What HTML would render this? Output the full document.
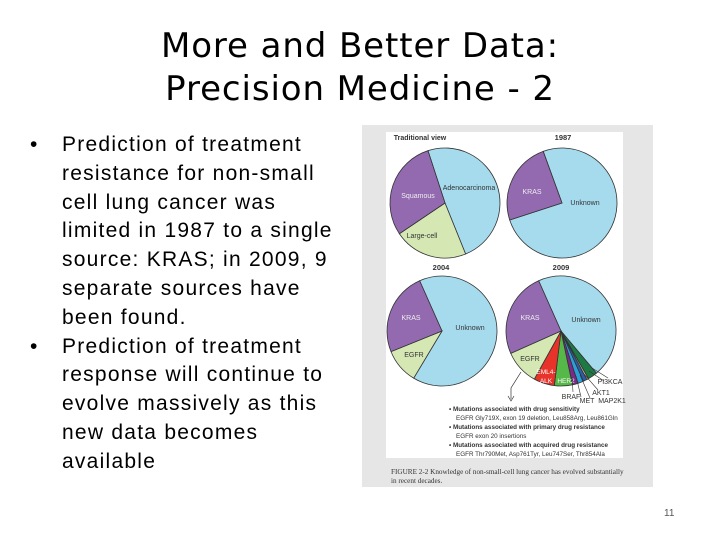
<!DOCTYPE html>
<html><head><meta charset="utf-8"><style>
body{margin:0;width:720px;height:540px;background:#fff;position:relative;overflow:hidden}
.t{position:absolute;left:0;width:720px;text-align:center;font-family:"DejaVu Sans",sans-serif;font-size:34px;letter-spacing:0.9px;line-height:43px;top:25px;color:#000}
.b{position:absolute;left:30px;width:330px;font-family:"Liberation Sans",sans-serif;font-size:21px;letter-spacing:1.25px;line-height:28.8px;color:#000;white-space:nowrap}
.b div{padding-left:32px;position:relative}
.b div span.bu{position:absolute;left:0}
.pn{position:absolute;left:664px;top:508px;font-family:"Liberation Sans",sans-serif;font-size:10px;color:#555}
</style></head><body>
<div class="t">More and Better Data:<br>Precision Medicine - 2</div>
<div class="b" style="top:131px">
<div><span class="bu">•</span>Prediction of treatment<br>resistance for non-small<br>cell lung cancer was<br>limited in 1987 to a single<br>source: KRAS; in 2009, 9<br>separate sources have<br>been found.</div>
<div><span class="bu">•</span>Prediction of treatment<br>response will continue to<br>evolve massively as this<br>new data becomes<br>available</div>
</div>
<div class="pn">11</div>
<svg id="fig" width="720" height="540" style="position:absolute;left:0;top:0">
<rect x="362" y="125" width="291" height="362" fill="#e6e6e6"/>
<rect x="386" y="132" width="237" height="326" fill="#fff"/>
</svg>
<script>
// values in degrees of each slice
const tradLabels=["Adenocarcinoma","Large-cell","Squamous"];
const tradValues=[176,78,106];
const y1987Labels=["Unknown","KRAS"];
const y1987Values=[272,88];
const y2004Labels=["Unknown","EGFR","KRAS"];
const y2004Values=[235,37,88];
const y2009Labels=["Unknown","PI3KCA","MAP2K1","AKT1","MET","BRAF","HER2","EML4-ALK","EGFR","KRAS"];
const y2009Values=[164,10,2,4,6,6,19,22,37,90];
const colors={Adenocarcinoma:"#a6dbee",Unknown:"#a6dbee","Large-cell":"#d5e8b4",EGFR:"#d5e8b4",Squamous:"#9369b0",KRAS:"#9369b0",PI3KCA:"#1e7a45",MAP2K1:"#d9c9a0",AKT1:"#2a5ea8",MET:"#2ba0d8",BRAF:"#7a2a8a",HER2:"#55b848","EML4-ALK":"#e8332a"};
const svg=document.getElementById('fig');
const NS="http://www.w3.org/2000/svg";
function pt(cx,cy,r,a){const t=a*Math.PI/180;return [cx+r*Math.sin(t),cy-r*Math.cos(t)];}
function pie(name,cx,cy,r,start,labels,vals){
  let a=start;
  labels.forEach((l,i)=>{
    const a2=a+vals[i];
    const p1=pt(cx,cy,r,a),p2=pt(cx,cy,r,a2);
    const p=document.createElementNS(NS,'path');
    p.setAttribute('d',`M${cx},${cy}L${p1[0]},${p1[1]}A${r},${r} 0 ${vals[i]>180?1:0} 1 ${p2[0]},${p2[1]}Z`);
    p.setAttribute('fill',colors[l]);p.setAttribute('stroke','#333');p.setAttribute('stroke-width','0.8');
    
    
    svg.appendChild(p);a=a2;
  });
}
function txt(x,y,s,size,fill,weight,anchor,fam){
  const t=document.createElementNS(NS,'text');
  t.setAttribute('x',x);t.setAttribute('y',y);t.setAttribute('font-size',size);
  t.setAttribute('fill',fill||'#333');t.setAttribute('font-family',fam||'"Liberation Sans",sans-serif');
  if(weight)t.setAttribute('font-weight',weight);
  t.setAttribute('text-anchor',anchor||'middle');t.textContent=s;
  
  
  svg.appendChild(t);
}
pie('traditional',445,203,55,342,tradLabels,tradValues);
pie('pie-1987',562,203,55,340,y1987Labels,y1987Values);
pie('pie-2004',442,331,55,336,y2004Labels,y2004Values);
pie('pie-2009',561,331,55,336,y2009Labels,y2009Values);
txt(420,140,'Traditional view',7,'#333','bold');
txt(563,140,'1987',7.5,'#333','bold');
txt(441,270,'2004',7.5,'#333','bold');
txt(561,270,'2009',7.5,'#333','bold');
txt(469,190,'Adenocarcinoma',7);txt(418,198,'Squamous',7,'#eee');txt(422,238,'Large-cell',7);
txt(532,194,'KRAS',7,'#eee');txt(585,205,'Unknown',7);
txt(411,320,'KRAS',7,'#eee');txt(470,330,'Unknown',7);txt(414,357,'EGFR',7);
txt(530,320,'KRAS',7,'#eee');txt(586,322,'Unknown',7);txt(530,361,'EGFR',7);
txt(546,374,'EML4-',6.5,'#fff');txt(546,383,'ALK',6.5,'#fff');txt(566,383,'HER2',6.5,'#fff');
txt(610,384,'PI3KCA',7);txt(601,395,'AKT1',7);txt(571,399,'BRAF',7);txt(587,403,'MET',7);txt(612,403,'MAP2K1',7);
const l=document.createElementNS(NS,'path');
l.setAttribute('d','M521,372 L511,388 L511,399 M508,396 L511,401 L514,396');
l.setAttribute('stroke','#333');l.setAttribute('fill','none');l.setAttribute('stroke-width','0.7');


svg.appendChild(l);
const l2=document.createElementNS(NS,'path');
l2.setAttribute('d','M589,371 L604,381 M584,374 L598,390 M580,375 L590,398 M576,376 L581,397 M572,377 L573,392 M592,368 L608,378');
l2.setAttribute('stroke','#333');l2.setAttribute('fill','none');l2.setAttribute('stroke-width','0.6');


svg.appendChild(l2);
const notes=[["• Mutations associated with drug sensitivity",411,'bold'],["EGFR Gly719X, exon 19 deletion, Leu858Arg, Leu861Gln",420,null],["• Mutations associated with primary drug resistance",429,'bold'],["EGFR exon 20 insertions",438,null],["• Mutations associated with acquired drug resistance",447,'bold'],["EGFR Thr790Met, Asp761Tyr, Leu747Ser, Thr854Ala",456,null]];
notes.forEach(n=>txt(n[2]?449:456,n[1],n[0],6.3,'#333',n[2],'start'));
txt(391,474,'FIGURE 2-2 Knowledge of non-small-cell lung cancer has evolved substantially',7.2,'#333',null,'start','"Liberation Serif",serif');
txt(391,483,'in recent decades.',7.2,'#333',null,'start','"Liberation Serif",serif');
</script>
</body></html>
